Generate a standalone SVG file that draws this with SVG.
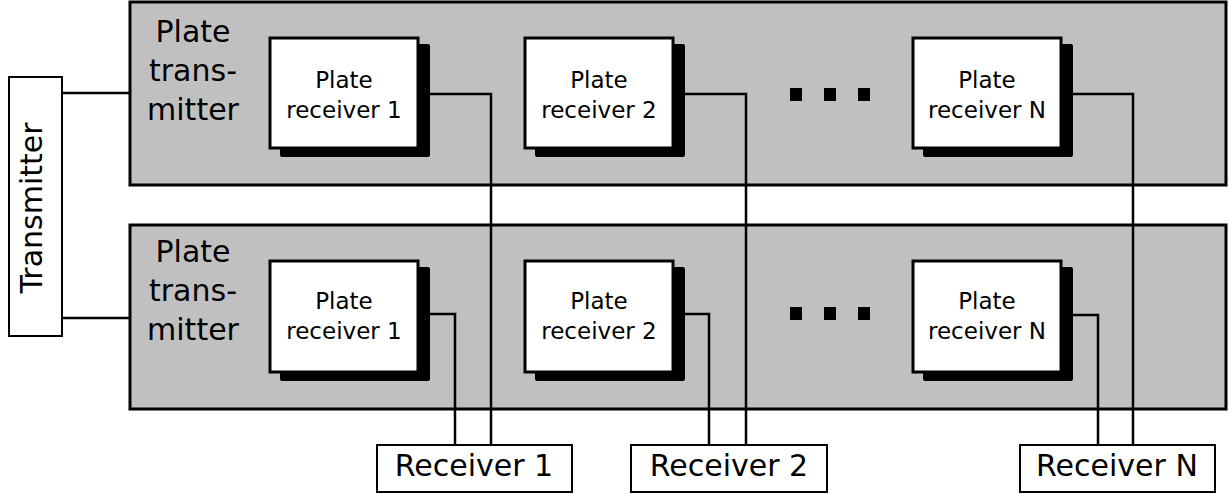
<svg xmlns="http://www.w3.org/2000/svg" width="1229" height="494" viewBox="0 0 1229 494">
<style>
text{font-family:"DejaVu Sans","Verdana",sans-serif;fill:#000}
.plate{fill:#c0c0c0;stroke:#000;stroke-width:3}
.pr{fill:#fff;stroke:#000;stroke-width:3}
.sh{fill:#000}
.box{fill:#fff;stroke:#000;stroke-width:2}
.wire{fill:none;stroke:#000;stroke-width:2.5}
.big{font-size:30px}
.small{font-size:23px}
</style>
<rect width="1229" height="494" fill="#fff"/>
<g id="plate-top">
<rect class="plate" x="130" y="2" width="1096" height="183"/>
<text class="big" text-anchor="middle" x="193" y="42">Plate</text>
<text class="big" text-anchor="middle" x="193" y="81">trans-</text>
<text class="big" text-anchor="middle" x="193" y="120">mitter</text>
</g>
<g id="plate-bottom">
<rect class="plate" x="130" y="225" width="1096" height="184"/>
<text class="big" text-anchor="middle" x="193" y="262">Plate</text>
<text class="big" text-anchor="middle" x="193" y="301">trans-</text>
<text class="big" text-anchor="middle" x="193" y="340">mitter</text>
</g>
<g id="transmitter">
<rect class="box" x="9" y="77" width="53" height="259"/>
<text class="big" text-anchor="middle" transform="translate(42,208) rotate(-90)">Transmitter</text>
</g>
<g id="pr-top-1">
<rect class="sh" x="280" y="44" width="150" height="113" rx="2"/>
<rect class="pr" x="270" y="38" width="148" height="110"/>
<text class="small" text-anchor="middle" x="344" y="88">Plate</text>
<text class="small" text-anchor="middle" x="344" y="118">receiver 1</text>
</g>
<g id="pr-top-2">
<rect class="sh" x="535" y="44" width="150" height="113" rx="2"/>
<rect class="pr" x="525" y="38" width="148" height="110"/>
<text class="small" text-anchor="middle" x="599" y="88">Plate</text>
<text class="small" text-anchor="middle" x="599" y="118">receiver 2</text>
</g>
<g id="dots-top">
<rect x="790" y="88" width="12" height="13"/>
<rect x="824" y="88" width="12" height="13"/>
<rect x="858" y="88" width="12" height="13"/>
</g>
<g id="pr-top-n">
<rect class="sh" x="923" y="44" width="150" height="113" rx="2"/>
<rect class="pr" x="913" y="38" width="148" height="110"/>
<text class="small" text-anchor="middle" x="987" y="88">Plate</text>
<text class="small" text-anchor="middle" x="987" y="118">receiver N</text>
</g>
<g id="pr-bot-1">
<rect class="sh" x="280" y="267" width="150" height="114" rx="2"/>
<rect class="pr" x="270" y="261" width="148" height="111"/>
<text class="small" text-anchor="middle" x="344" y="309">Plate</text>
<text class="small" text-anchor="middle" x="344" y="339">receiver 1</text>
</g>
<g id="pr-bot-2">
<rect class="sh" x="535" y="267" width="150" height="114" rx="2"/>
<rect class="pr" x="525" y="261" width="148" height="111"/>
<text class="small" text-anchor="middle" x="599" y="309">Plate</text>
<text class="small" text-anchor="middle" x="599" y="339">receiver 2</text>
</g>
<g id="dots-bottom">
<rect x="790" y="307" width="12" height="13"/>
<rect x="824" y="307" width="12" height="13"/>
<rect x="858" y="307" width="12" height="13"/>
</g>
<g id="pr-bot-n">
<rect class="sh" x="923" y="267" width="150" height="114" rx="2"/>
<rect class="pr" x="913" y="261" width="148" height="111"/>
<text class="small" text-anchor="middle" x="987" y="309">Plate</text>
<text class="small" text-anchor="middle" x="987" y="339">receiver N</text>
</g>
<g id="connectors">
<path class="wire" stroke-width="3" d="M62 93H130M62 318H130"/>
<path class="wire" d="M430 94H491V445M685 94H746V445M1073 94H1133V445"/>
<path class="wire" d="M430 314H455V445M685 314H709V445M1073 315H1098V445"/>
</g>
<g id="receiver-1">
<rect class="box" x="377" y="445" width="195" height="47"/>
<text class="big" text-anchor="middle" x="474" y="476">Receiver 1</text>
</g>
<g id="receiver-2">
<rect class="box" x="631" y="445" width="196" height="47"/>
<text class="big" text-anchor="middle" x="729" y="476">Receiver 2</text>
</g>
<g id="receiver-n">
<rect class="box" x="1020" y="445" width="195" height="47"/>
<text class="big" text-anchor="middle" x="1117" y="476">Receiver N</text>
</g>
</svg>
